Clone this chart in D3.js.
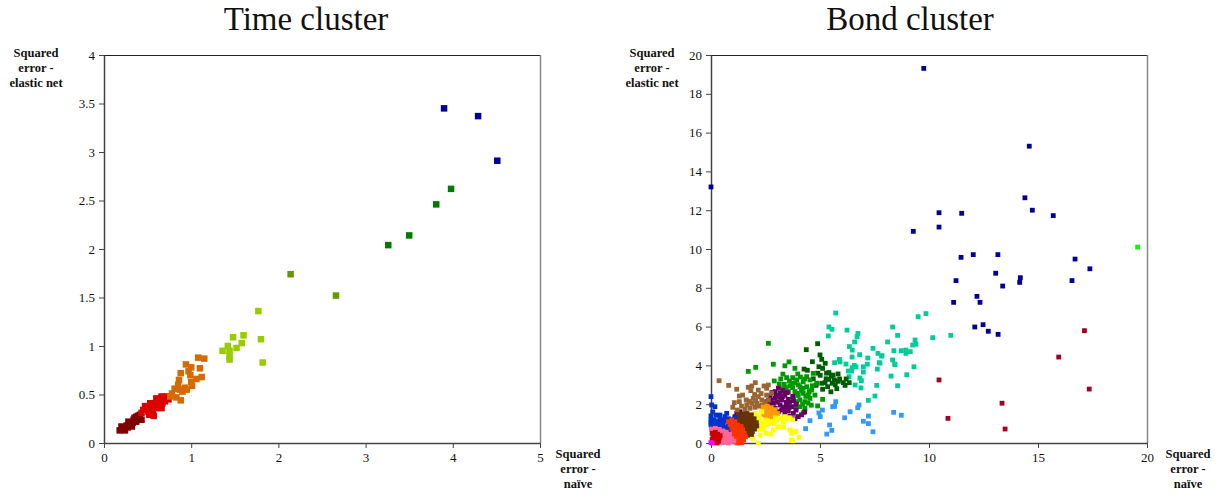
<!DOCTYPE html>
<html><head><meta charset="utf-8">
<script src="https://cdn.jsdelivr.net/npm/d3@7"></script>
<style>body{margin:0;background:#fff}svg{display:block;font-family:"Liberation Serif",serif}svg text{font-family:"Liberation Serif",serif !important}</style>
</head><body>
<svg id="c" width="1219" height="495"></svg>
<script>
// ---------- DATA: Time cluster ----------
const timeTitle = "Time cluster";
const timeXTicks = [0,1,2,3,4,5];
const timeYTicks = [0,0.5,1,1.5,2,2.5,3,3.5,4];
const timeDarkRed = [[0.18,0.13],[0.22,0.15],[0.26,0.18],[0.30,0.20],[0.34,0.24],[0.37,0.27],[0.41,0.29],[0.32,0.17],[0.37,0.22],[0.43,0.24],[0.24,0.13],[0.20,0.17],[0.28,0.22],[0.39,0.28],[0.33,0.21],[0.27,0.16],[0.35,0.26]];
const timeRed = [[0.60,0.46],[0.66,0.48],[0.72,0.48],[0.70,0.43],[0.66,0.36],[0.57,0.28],[0.51,0.32],[0.45,0.34],[0.47,0.38],[0.53,0.41],[0.58,0.40],[0.62,0.42],[0.55,0.36],[0.60,0.36],[0.64,0.44],[0.69,0.46],[0.43,0.31],[0.74,0.45],[0.50,0.36],[0.56,0.33],[0.62,0.39],[0.67,0.41],[0.52,0.29]];
const timeOrange = [[1.08,0.88],[1.15,0.87],[0.94,0.81],[1.0,0.78],[1.10,0.77],[0.88,0.72],[0.99,0.70],[1.12,0.68],[1.06,0.66],[0.86,0.65],[1.0,0.63],[0.85,0.60],[0.93,0.57],[1.01,0.59],[0.81,0.56],[0.87,0.55],[0.95,0.55],[0.78,0.51],[0.76,0.48],[0.83,0.47],[0.88,0.44],[0.97,0.74],[0.90,0.53]];
const timeLightGreen = [[1.77,1.36],[1.48,1.09],[1.60,1.11],[1.58,1.03],[1.52,0.98],[1.42,1.0],[1.36,0.95],[1.44,0.95],[1.44,0.90],[1.44,0.86],[1.80,1.07],[1.82,0.83]];
const timeOlive = [[2.14,1.74],[2.66,1.52]];
const timeGreen = [[3.26,2.04],[3.50,2.14],[3.81,2.46],[3.98,2.62]];
const timeNavy = [[3.9,3.45],[4.29,3.37],[4.51,2.91]];

// ---------- DATA: Bond cluster ----------
const bondTitle = "Bond cluster";
const bondXTicks = [0,5,10,15,20];
const bondYTicks = [0,2,4,6,8,10,12,14,16,18,20];
const bondTeal = [[5.72,6.70],[9.5,6.51],[9.86,6.67],[5.41,5.98],[5.55,5.86],[5.38,5.52],[6.24,5.82],[6.74,5.65],[6.70,5.48],[6.59,5.21],[8.33,5.98],[8.56,5.55],[9.36,5.31],[9.25,5.05],[9.4,5.09],[10.17,5.43],[8.1,5.21],[6.35,4.97],[6.48,4.79],[7.43,4.88],[8.39,4.76],[8.73,4.76],[8.94,4.79],[8.94,4.62],[9.14,4.71],[6.82,4.55],[7.19,4.38],[7.66,4.62],[7.83,4.48],[6.47,4.43],[5.89,4.31],[5.92,4.18],[6.19,4.07],[5.67,4.14],[8.33,4.28],[8.43,4.07],[7.72,4.14],[7.17,4.06],[6.57,4.0],[6.65,3.93],[6.99,3.93],[6.48,3.88],[9.31,3.93],[7.63,3.81],[6.3,3.71],[6.45,3.71],[6.99,3.66],[6.33,3.42],[6.83,3.35],[6.9,3.21],[8.26,3.45],[8.98,3.52],[6.61,2.99],[6.88,2.84],[7.6,2.97],[8.56,2.95],[7.52,2.42],[7.22,2.2],[11.0,5.55],[7.84,4.5],[7.75,4.12],[8.44,4.04]];
const bondLightBlue = [[5.72,2.13],[5.58,1.87],[5.67,1.89],[6.79,1.96],[6.73,1.82],[5.11,1.70],[4.95,1.55],[6.38,1.61],[5.01,1.36],[8.38,1.58],[8.73,1.43],[7.22,1.39],[6.13,1.30],[4.54,1.15],[6.99,1.12],[7.22,1.0],[5.44,0.93],[4.34,0.74],[5.54,0.65],[5.31,0.46],[7.43,0.58]];
const bondDarkGreen = [[4.89,5.12],[4.37,4.81],[5.0,4.54],[5.08,4.31],[4.65,4.19],[5.24,4.11],[4.95,3.93],[5.12,3.85],[4.27,3.81],[4.42,3.75],[5.41,3.63],[5.01,3.49],[5.52,3.45],[5.83,3.56],[5.28,3.31],[5.41,3.28],[5.66,3.25],[5.84,3.18],[6.07,3.11],[5.08,3.08],[4.82,2.97],[5.35,2.90],[6.15,2.97],[6.34,3.11],[5.12,2.77],[5.5,2.64],[5.77,2.8],[5.23,3.11],[5.56,3.08],[4.69,3.31],[5.9,3.3],[5.6,3.5],[5.3,3.6],[4.9,3.6],[5.7,3.0],[6.2,3.3]];
const bondGreen = [[2.63,5.14],[1.71,3.69],[2.05,3.90],[2.86,4.06],[3.39,3.98],[3.58,4.18],[3.85,3.85],[3.13,3.04],[3.36,3.02],[3.47,3.37],[3.75,3.37],[3.29,2.80],[3.62,2.94],[4.08,2.90],[4.39,2.90],[3.93,2.56],[4.23,2.56],[4.54,3.25],[4.85,3.08],[4.62,2.73],[4.08,2.22],[4.31,2.13],[4.08,1.87],[4.89,1.91],[5.12,2.25],[4.77,2.47],[3.93,2.13],[3.78,2.30],[3.93,3.25],[4.23,3.16],[3.55,2.65],[4.46,2.47],[4.23,2.82],[3.85,2.65],[4.39,3.42],[4.69,3.59],[3.98,3.56],[3.70,3.08],[4.54,2.30],[4.31,1.79],[4.23,1.56],[4.0,3.0],[4.15,2.7],[4.5,2.65],[3.6,3.2],[4.3,3.3],[3.2,3.3],[3.45,2.85],[3.75,2.85],[4.0,2.45],[4.35,2.4],[4.65,2.95],[4.1,3.4],[3.85,3.1],[3.3,3.55],[4.45,2.05],[3.9,1.8],[4.6,1.95],[2.9,3.2],[4.2,2.0]];
const bondPurple = [[3.09,2.82],[2.94,2.65],[3.17,2.56],[3.39,2.47],[2.71,2.39],[2.94,2.30],[3.24,2.22],[3.55,2.25],[3.78,2.18],[2.55,2.13],[2.86,2.04],[3.17,1.96],[3.47,1.96],[3.70,1.87],[2.63,1.87],[2.94,1.79],[3.24,1.70],[3.55,1.66],[3.78,1.53],[4.0,1.36],[3.62,1.39],[3.39,1.53],[3.09,1.61],[1.18,1.53],[1.1,1.36],[1.33,1.61],[2.8,2.6],[3.0,2.45],[3.3,2.7],[3.6,2.1],[3.9,2.0],[3.9,1.7],[3.3,1.85],[3.05,2.1],[2.75,2.2],[2.5,1.95],[4.15,1.45],[4.3,1.6],[3.85,1.25],[1.0,1.2],[1.25,1.25],[1.4,1.45],[3.5,2.6],[3.3,2.4],[3.45,2.1],[3.15,2.35],[2.7,2.0],[3.6,1.85],[3.75,2.4],[3.4,1.75]];
const bondBrown = [[0.37,3.21],[0.81,2.97],[1.18,2.77],[1.45,2.47],[1.30,2.42],[1.71,2.87],[1.87,2.94],[2.03,3.11],[1.83,2.70],[2.17,2.73],[2.43,2.94],[2.63,2.99],[2.55,2.82],[1.61,2.22],[1.07,2.08],[1.0,1.84],[1.30,2.13],[1.94,2.30],[2.17,2.39],[2.33,2.22],[2.55,2.47],[2.78,2.56],[1.64,1.96],[1.87,2.04],[2.10,2.04],[2.33,1.96],[1.56,1.74],[1.79,1.79],[2.02,1.84],[2.48,2.08],[2.63,2.22],[1.4,1.9],[1.75,2.15],[2.05,2.2],[2.3,2.55],[2.0,2.5],[1.2,1.7],[2.2,1.9]];
const bondOrange = [[2.4,1.85],[2.58,1.9],[2.76,1.82],[2.94,1.72],[2.35,1.66],[2.52,1.68],[2.7,1.66],[2.88,1.58],[3.05,1.52],[2.42,1.48],[2.6,1.5],[2.78,1.44],[2.96,1.38],[2.5,1.32],[2.68,1.3],[2.86,1.25],[2.58,1.2]];
const bondYellow = [[2.02,1.53],[2.17,1.36],[2.33,1.61],[2.02,1.19],[2.25,1.10],[2.48,1.19],[2.10,0.84],[2.33,0.84],[2.55,0.93],[2.78,1.10],[3.01,1.19],[3.17,1.27],[3.39,1.36],[3.32,1.10],[3.09,0.84],[2.75,0.46],[2.52,0.5],[2.25,0.41],[1.91,0.24],[2.17,0.0],[2.40,0.71],[3.62,0.67],[3.70,0.50],[3.90,0.58],[3.75,0.12],[4.04,0.29],[3.47,1.27],[2.86,0.67],[3.24,1.27],[3.39,1.19],[3.32,0.84],[3.70,0.63],[3.82,0.58],[3.70,0.15],[2.2,1.25],[2.35,1.0],[2.5,1.05],[2.65,1.0],[2.2,0.7],[2.1,1.4],[2.6,1.15],[2.9,1.0],[3.6,1.3],[3.75,1.2],[2.95,1.3]];
const bondDarkBrown = [[1.25,1.45],[1.45,1.5],[1.65,1.52],[1.85,1.45],[1.22,1.28],[1.4,1.3],[1.6,1.3],[1.8,1.28],[1.98,1.25],[1.2,1.1],[1.38,1.1],[1.56,1.12],[1.74,1.1],[1.92,1.08],[2.08,1.05],[1.22,0.92],[1.4,0.92],[1.58,0.92],[1.76,0.92],[1.94,0.9],[2.1,0.88],[1.28,0.74],[1.46,0.74],[1.64,0.74],[1.82,0.74],[2.0,0.72],[1.36,0.58],[1.54,0.56],[1.72,0.56],[1.9,0.58],[1.5,0.42],[1.68,0.4],[1.86,0.44]];
const bondBlue = [[0,2.39],[0.03,1.96],[0.18,1.87],[0.23,1.44],[0.41,1.44],[0,1.19],[0,0.93],[0.03,0.84],[0.33,1.10],[0.49,1.19],[0.64,1.36],[0.72,1.53],[0.56,0.93],[0.79,1.02],[0.41,0.84],[0.64,0.67],[0.87,0.58],[0.72,0.41],[0.95,0.84],[0.2,1.0],[0.3,0.85],[0.5,1.05],[0.65,1.15],[0.8,1.25],[0.9,1.1],[1.05,1.0],[0.15,1.2],[0,1.05],[0.1,0.75],[0.55,0.75],[0.75,0.8],[0.9,0.7],[1.0,0.6],[0.85,0.45],[0.6,0.55],[0.4,1.25],[1.1,1.3],[0,1.4],[0.08,1.6]];
const bondRedOrange = [[0.8,1.1],[0.95,1.18],[1.1,1.1],[0.88,0.95],[1.05,0.95],[1.22,0.92],[1.38,0.85],[0.95,0.8],[1.12,0.78],[1.3,0.72],[1.45,0.68],[1.0,0.62],[1.18,0.6],[1.35,0.55],[1.52,0.5],[1.05,0.45],[1.22,0.42],[1.4,0.38],[1.58,0.32],[0.98,0.3],[1.15,0.28],[1.32,0.22],[1.5,0.15],[1.1,0.12],[1.25,0.05],[1.4,0.02],[1.2,0.0]];
const bondPink = [[0.02,0.72],[0.2,0.76],[0.38,0.7],[0.55,0.62],[0.7,0.55],[0.85,0.45],[0.3,0.55],[0.48,0.48],[0.65,0.4],[0.8,0.3],[0.95,0.22],[0.45,0.32],[0.6,0.25],[0.75,0.15],[0.9,0.08],[0.5,0.15],[0.65,0.08],[0.4,0.05],[1.05,0.1],[0.55,0.02],[0.8,0.0]];
const bondRed = [[0.05,0.5],[0.2,0.55],[0.3,0.45],[0.1,0.35],[0.25,0.3],[0.38,0.25],[0.05,0.18],[0.2,0.15],[0.35,0.1],[0.1,0.02],[0.28,0.0],[0.42,0.38]];
const bondMagenta = [[0,0.02],[0.05,0.0]];
const bondCrimson = [[17.13,5.79],[15.95,4.43],[10.46,3.25],[17.35,2.78],[13.35,2.05],[10.87,1.27],[13.49,0.72]];
const bondNavy = [[0,13.2],[9.76,19.31],[14.6,15.3],[14.4,12.64],[14.74,12.0],[15.7,11.72],[10.46,11.87],[11.5,11.84],[10.46,11.13],[9.28,10.91],[11.47,9.57],[12.03,9.71],[13.16,9.71],[16.7,9.48],[17.38,8.98],[11.24,8.37],[13.06,8.75],[13.38,8.09],[14.19,8.52],[14.16,8.28],[16.56,8.37],[12.2,7.56],[11.13,7.25],[12.34,7.25],[12.1,5.98],[12.48,6.1],[12.72,5.76],[13.17,5.6]];
const bondLime = [[19.57,10.1]];

// ---------- STYLES ----------
const timeSeries = [
  {data: timeDarkRed, color: "#7f0000"},
  {data: timeRed, color: "#dd0000"},
  {data: timeOrange, color: "#d46a00"},
  {data: timeLightGreen, color: "#99cc00"},
  {data: timeOlive, color: "#669900"},
  {data: timeGreen, color: "#007a00"},
  {data: timeNavy, color: "#000099"}
];
const bondSeries = [
  {data: bondTeal, color: "#00cc99"},
  {data: bondLightBlue, color: "#3399ff"},
  {data: bondDarkGreen, color: "#005c00"},
  {data: bondGreen, color: "#009900"},
  {data: bondPurple, color: "#660066"},
  {data: bondBrown, color: "#996633"},
  {data: bondOrange, color: "#ff9900"},
  {data: bondYellow, color: "#ffff00"},
  {data: bondDarkBrown, color: "#663300"},
  {data: bondBlue, color: "#0033cc"},
  {data: bondRedOrange, color: "#ff3300"},
  {data: bondPink, color: "#ff6699"},
  {data: bondRed, color: "#cc0000"},
  {data: bondMagenta, color: "#ff00ff"},
  {data: bondCrimson, color: "#a50021"},
  {data: bondNavy, color: "#000099"},
  {data: bondLime, color: "#00ff00"}
];

const svg = d3.select("#c");
const serif = "Liberation Serif";

function panel(o){
  const x = d3.scaleLinear().domain(o.xDomain).range([o.x0, o.x1]);
  const y = d3.scaleLinear().domain(o.yDomain).range([o.y0, o.y1]);
  const g = svg.append("g");
  g.append("text").attr("x", o.titleX).attr("y", 30).attr("text-anchor","middle")
    .attr("font-family", serif).attr("font-size", 33).attr("fill","#111").text(o.title);
  g.append("line").attr("x1",o.x0).attr("x2",o.x1).attr("y1",o.y1+0.5).attr("y2",o.y1+0.5).attr("stroke","#222").attr("stroke-width",1.2);
  g.append("line").attr("x1",o.x1+0.5).attr("x2",o.x1+0.5).attr("y1",o.y1).attr("y2",o.y0).attr("stroke","#888").attr("stroke-width",1.5);
  const ya = g.append("g").attr("transform",`translate(${o.x0},0)`)
    .call(d3.axisLeft(y).tickValues(o.yTicks).tickSize(5).tickSizeOuter(0).tickPadding(4).tickFormat(d3.format("")));
  const xa = g.append("g").attr("transform",`translate(0,${o.y0})`)
    .call(d3.axisBottom(x).tickValues(o.xTicks).tickSize(5).tickSizeOuter(0).tickPadding(5).tickFormat(d3.format("")));
  [ya, xa].forEach(a => {
    a.attr("font-family", serif).attr("font-size", 13);
    a.selectAll("text").attr("fill","#111");
    a.selectAll("line").attr("stroke","#444");
    a.select(".domain").attr("stroke","#444").attr("stroke-width",1.5);
  });
  o.series.forEach(s => {
    g.append("g").selectAll("rect").data(s.data).join("rect")
      .attr("x", d => x(d[0]) - o.size/2).attr("y", d => y(d[1]) - o.size/2)
      .attr("width", o.size).attr("height", o.size).attr("fill", s.color);
  });
  const yt = g.append("text").attr("text-anchor","middle")
    .attr("font-family", serif).attr("font-size", 12.5).attr("font-weight","bold").attr("fill","#111");
  ["Squared","error -","elastic net"].forEach((t,i)=> yt.append("tspan").attr("x",o.yTitleX).attr("y",57+i*15).text(t));
  const xt = g.append("text").attr("text-anchor","middle")
    .attr("font-family", serif).attr("font-size", 12.5).attr("font-weight","bold").attr("fill","#111");
  ["Squared","error -","naïve"].forEach((t,i)=> xt.append("tspan").attr("x",o.xTitleX).attr("y",458+i*15).text(t));
}

panel({title: timeTitle, titleX: 306, x0:104, x1:540, y0:443, y1:55, xDomain:[0,5], yDomain:[0,4],
  xTicks: timeXTicks, yTicks: timeYTicks, series: timeSeries, size: 6.5, yTitleX: 36, xTitleX: 578});
panel({title: bondTitle, titleX: 910, x0:711, x1:1147, y0:443, y1:55, xDomain:[0,20], yDomain:[0,20],
  xTicks: bondXTicks, yTicks: bondYTicks, series: bondSeries, size: 4.8, yTitleX: 652, xTitleX: 1188});
</script>
</body></html>
